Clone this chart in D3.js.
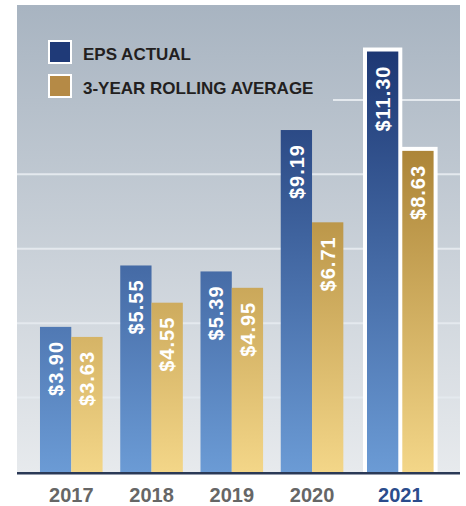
<!DOCTYPE html>
<html>
<head>
<meta charset="utf-8">
<script src="https://cdn.jsdelivr.net/npm/d3@7"></script>
<style>
	body { margin: 0; background: #fff; }
	svg { display: block; font-family: 'Liberation Sans', Arial, sans-serif; }
</style>
</head>
<body>
<svg width="466" height="506"></svg>
<script>
const years = ['2017', '2018', '2019', '2020', '2021']
const epsActual = [3.90, 5.55, 5.39, 9.19, 11.30]
const rollingAverage = [3.63, 4.55, 4.95, 6.71, 8.63]
const gridTicks = [2, 4, 6, 8, 10]
const legendLabels = ['EPS ACTUAL', '3-YEAR ROLLING AVERAGE']
const highlightYear = '2021'

let svg = d3.select('svg')
let plotLeft = 17, plotRight = 460, plotTop = 5, base = 472

let x = d3.scaleBand().domain(years).range([plotLeft, plotRight])
	.paddingInner(0.22).paddingOuter(0.37).align(0.387)
let y = d3.scaleLinear().domain([0, 12.55]).range([base, plotTop])
let bw = x.bandwidth() / 2
let fmt = d3.format('$.2f')

let defs = svg.append('defs')
function gradient(id, y1, y2, c1, c2) {
	let g = defs.append('linearGradient').attr('id', id)
		.attr('gradientUnits', 'userSpaceOnUse')
		.attr('x1', 0).attr('x2', 0).attr('y1', y1).attr('y2', y2)
	g.append('stop').attr('offset', 0).attr('stop-color', c1)
	g.append('stop').attr('offset', 1).attr('stop-color', c2)
}
gradient('bg', plotTop, base, '#a8b4c1', '#e7eaed')
gradient('blue', 40, base, '#1b3571', '#6b9bd5')
gradient('gold', 40, base, '#94691c', '#f3d688')

svg.append('rect').attr('x', plotLeft).attr('y', plotTop)
	.attr('width', plotRight - plotLeft).attr('height', base - plotTop)
	.attr('fill', 'url(#bg)')

svg.append('g').selectAll('line').data(gridTicks).join('line')
	.attr('x1', plotLeft).attr('x2', plotRight)
	.attr('y1', d => y(d)).attr('y2', d => y(d))
	.attr('stroke', '#e4e9ee').attr('stroke-width', 2)

// legend panel hides the top gridline on the left
svg.append('rect').attr('x', plotLeft).attr('y', plotTop)
	.attr('width', 316).attr('height', 120)
	.attr('fill', 'url(#bg)')

let rows = years.map((yr, i) => ({year: yr, eps: epsActual[i], avg: rollingAverage[i], hl: yr == highlightYear}))

function barX(d, k) {
	let x0 = x(d.year) + (d.hl ? 6 : 0)
	return k == 0 ? x0 : x0 + bw + (d.hl ? 4 : 0)
}

let marks = []
rows.forEach(d => {
	marks.push({d: d, k: 0, v: d.eps, fill: 'url(#blue)'})
	marks.push({d: d, k: 1, v: d.avg, fill: 'url(#gold)'})
})

svg.append('g').selectAll('rect').data(marks.filter(m => m.d.hl)).join('rect')
	.attr('x', m => barX(m.d, m.k) - 4)
	.attr('y', m => y(m.v) - 4)
	.attr('width', bw + 8)
	.attr('height', m => base - y(m.v) + 4)
	.attr('fill', '#fff')

svg.append('g').selectAll('rect').data(marks).join('rect')
	.attr('x', m => barX(m.d, m.k))
	.attr('y', m => y(m.v))
	.attr('width', bw)
	.attr('height', m => base - y(m.v))
	.attr('fill', m => m.fill)

svg.append('g').selectAll('text').data(marks).join('text')
	.attr('transform', m => 'translate(' + (barX(m.d, m.k) + bw / 2) + ',' + (y(m.v) + 14) + ') rotate(-90)')
	.attr('text-anchor', 'end')
	.attr('dy', '0.36em')
	.attr('fill', '#fff')
	.attr('font-size', 20)
	.attr('font-weight', 'bold')
	.attr('letter-spacing', 1)
	.text(m => fmt(m.v))

svg.append('line').attr('x1', plotLeft).attr('x2', plotRight)
	.attr('y1', base + 1.3).attr('y2', base + 1.3)
	.attr('stroke', '#2a3956').attr('stroke-width', 2.6)

svg.append('g').selectAll('text').data(rows).join('text')
	.attr('x', d => d.hl ? barX(d, 0) + bw + 2 : x(d.year) + bw)
	.attr('y', 502)
	.attr('text-anchor', 'middle')
	.attr('font-size', 20)
	.attr('font-weight', 'bold')
	.attr('fill', d => d.hl ? '#2b4c8c' : '#666666')
	.text(d => d.year)

let legend = svg.append('g').selectAll('g').data(legendLabels).join('g')
	.attr('transform', (d, i) => 'translate(48,' + (40 + i * 34) + ')')
legend.append('rect').attr('x', 1).attr('y', 1).attr('width', 22).attr('height', 22)
	.attr('fill', (d, i) => i == 0 ? '#1f3a78' : '#b58a46')
	.attr('stroke', '#fff').attr('stroke-width', 2)
legend.append('text').attr('x', 35).attr('y', 20)
	.attr('font-size', 17).attr('font-weight', 'bold')
	.attr('fill', '#231f20')
	.text(d => d)
</script>
</body>
</html>
